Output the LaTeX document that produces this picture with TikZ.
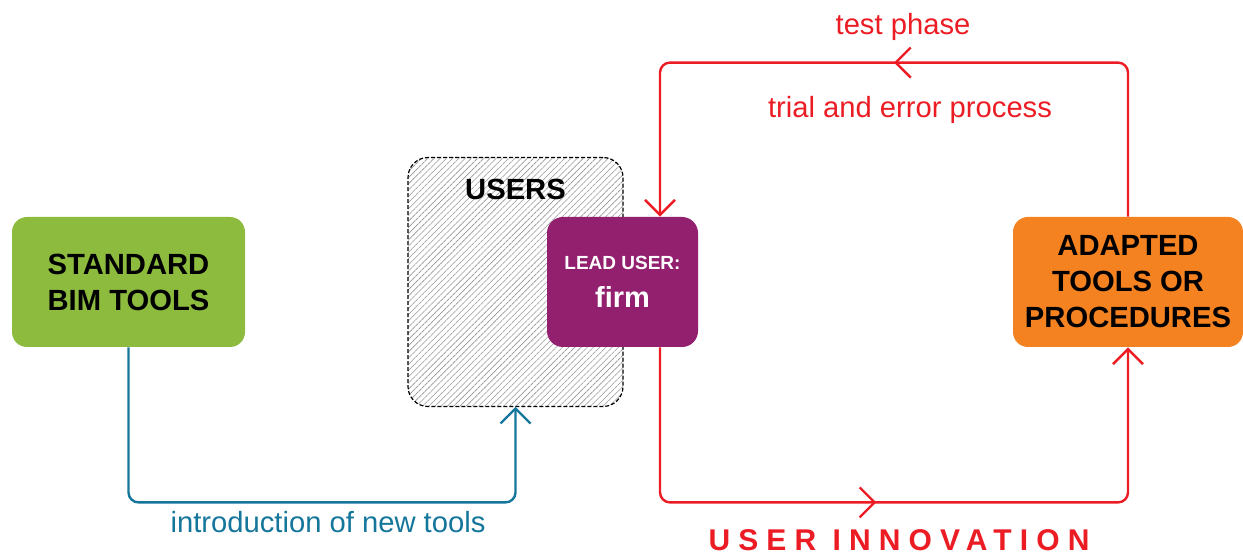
\documentclass[tikz,border=0pt]{standalone}
\usepackage{fontspec}
\setmainfont{Liberation Sans}
\usetikzlibrary{positioning,arrows.meta,patterns.meta,decorations.markings,calc}
\definecolor{bimgreen}{HTML}{8CBB3E}
\definecolor{leadpurple}{HTML}{92206F}
\definecolor{adaptorange}{HTML}{F58220}
\definecolor{innored}{HTML}{EC1C24}
\definecolor{introblue}{HTML}{15769B}

\begin{document}
\begin{tikzpicture}[x=0.5pt,y=-0.5pt,
	box/.style={rounded corners=7.5pt,minimum height=65pt,align=center,inner sep=0pt,font=\fontsize{14.6}{18}\selectfont\bfseries},
	flow/.style={line width=1.2pt,rounded corners=5pt,-{Straight Barb[length=7.5pt,width=15pt]}},
	midarrow/.style={postaction={decorate},decoration={markings,mark=at position #1 with {\arrow{Straight Barb[length=7.5pt,width=15pt]}}}},
	caption/.style={font=\fontsize{14.6}{18}\selectfont,anchor=base}]
	\useasboundingbox (0,0) rectangle (1243,555);
	\node[box,fill=bimgreen,minimum width=116.5pt] (std) at (128.5,282) {STANDARD\\BIM TOOLS};
	\node[rounded corners=10pt,minimum width=107.5pt,minimum height=124.5pt,draw=black,line width=0.6pt,dash pattern=on 2pt off 1pt,
		pattern={Lines[angle=45,distance=2.2pt,line width=0.3pt]},pattern color=gray!85] (users) at (515.5,282) {};
	\node[font=\fontsize{14.6}{18}\selectfont\bfseries,inner sep=0pt,below=11pt of users.north] (userstitle) {USERS};
	\node[box,fill=leadpurple,text=white,minimum width=75.5pt,rounded corners=8pt] (lead) at (622.5,282)
		{\fontsize{9.5}{11}\selectfont LEAD USER:\\[1pt]\fontsize{14.5}{16}\selectfont firm};
	\node[box,fill=adaptorange,minimum width=115pt] (adapted) at (1128,282) {ADAPTED\\TOOLS OR\\PROCEDURES};
	\draw[flow,introblue] (std.south) -- ++(0,155) -| (users.south);
	\draw[flow,innored,midarrow=0.477] ($(lead.south)+(37.5,0)$) -- ++(0,155) -| (adapted.south);
	\draw[flow,innored,midarrow=0.5] (adapted.north) -- ++(0,-154) -| ($(lead.north)+(37.5,0)$);
	\node[caption,text=innored] (testphase) at (903,35) {test phase};
	\node[caption,text=innored] (trial) at (910,118) {trial and error process};
	\node[caption,text=introblue] (intro) at (328,533) {introduction of new tools};
	\node[anchor=base,inner sep=0pt,text=innored,font=\fontsize{15}{18}\selectfont\bfseries\addfontfeature{LetterSpace=27}] (innovation) at (899,551) {USER INNOVATION};
\end{tikzpicture}
\end{document}
